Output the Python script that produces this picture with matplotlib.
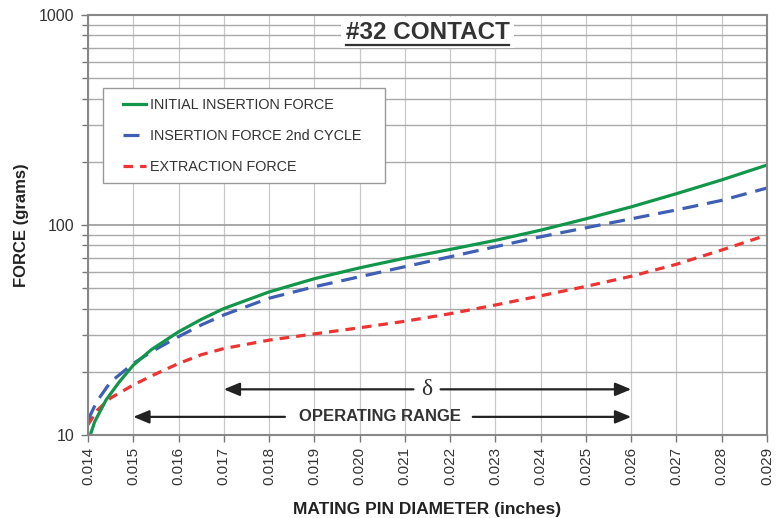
import numpy as np
import matplotlib
matplotlib.use("Agg")
import matplotlib.pyplot as plt
from matplotlib.lines import Line2D
from matplotlib.patches import Rectangle
from matplotlib.ticker import FixedLocator, NullFormatter

plt.rcParams['font.family'] = ['Liberation Sans', 'DejaVu Sans']

# values (pin diameter in inches, force in grams)
x_initial = [0.01405, 0.01415, 0.0144, 0.0147, 0.015, 0.0154, 0.016, 0.0165, 0.017,
             0.018, 0.019, 0.020, 0.021, 0.022, 0.023, 0.024, 0.025, 0.026,
             0.027, 0.028, 0.029]
initial = [10.0, 11.6, 14.7, 18.0, 21.5, 25.5, 31.0, 35.5, 40.0,
           48.0, 55.5, 62.5, 69.5, 76.5, 84.5, 94.5, 107, 122,
           141, 164, 193]

x_second = [0.014, 0.0142, 0.0145, 0.015, 0.0154, 0.016, 0.0165, 0.017,
            0.018, 0.019, 0.020, 0.021, 0.022, 0.023, 0.024, 0.025, 0.026,
            0.027, 0.028, 0.029]
second = [11.8, 14.5, 17.9, 21.9, 24.9, 29.4, 33.4, 37.3,
          44.8, 50.8, 56.7, 63.3, 70.6, 78.8, 87.9, 97.0, 107,
          118, 131, 150]

x_extract = [0.014, 0.0142, 0.0145, 0.015, 0.0154, 0.016, 0.0165, 0.017,
             0.018, 0.019, 0.020, 0.021, 0.022, 0.023, 0.024, 0.025, 0.026,
             0.027, 0.028, 0.029]
extract = [11.2, 13.1, 15.0, 17.3, 19.1, 21.9, 24.1, 25.8,
           28.3, 30.3, 32.4, 34.8, 37.8, 41.6, 46.0, 51.0, 57.0,
           65.0, 76.0, 89.6]

x_ticks = [0.014, 0.015, 0.016, 0.017, 0.018, 0.019, 0.020, 0.021,
           0.022, 0.023, 0.024, 0.025, 0.026, 0.027, 0.028, 0.029]

# arrow spans
delta_span = (0.017, 0.026)
operating_span = (0.015, 0.026)

GREEN = '#12964a'
BLUE = '#3f5fb5'
RED = '#ee3333'
BLUE_LS = (0, (5, 2.8))
RED_LS = (0, (3, 2.2))

fig = plt.figure(figsize=(7.83, 5.18), dpi=100)
ax = fig.add_axes([88 / 783, 1 - 435 / 518, 679 / 783, 420 / 518])

ax.set_yscale('log')
ax.set_xlim(0.014, 0.029)
ax.set_ylim(10, 1000)

# grid
minor_y = [v * d for d in (10, 100) for v in range(2, 10)]
ax.yaxis.set_minor_locator(FixedLocator(minor_y))
ax.yaxis.set_minor_formatter(NullFormatter())
ax.set_yticks([10, 100, 1000])
ax.set_yticklabels(['10', '100', '1000'], fontsize=11.5)
ax.set_xticks(x_ticks)
ax.set_xticklabels(['%.3f' % v for v in x_ticks], rotation=90, fontsize=11)
ax.grid(True, which='major', axis='y', color='#9a9a9a', lw=1.2)
ax.grid(True, which='minor', axis='y', color='#aaaaaa', lw=1.0)
ax.grid(True, which='major', axis='x', color='#c8c8c8', lw=0.9)
ax.tick_params(axis='both', which='both', length=5, color='#777777', width=1)
ax.tick_params(axis='y', which='minor', length=4)
ax.tick_params(axis='both', labelcolor='#333333')
ax.tick_params(axis='y', pad=5)
for s in ax.spines.values():
    s.set_color('#888888')
    s.set_linewidth(1.5)
ax.set_axisbelow(True)

ax.plot(x_extract, extract, color=RED, lw=2.3, ls=RED_LS)
ax.plot(x_second, second, color=BLUE, lw=2.3, ls=BLUE_LS)
ax.plot(x_initial, initial, color=GREEN, lw=2.3)

# legend: entries without frame, frame drawn as its own box
ax.add_patch(Rectangle((0.0221, 0.6), 0.4153, 0.226, transform=ax.transAxes,
                       facecolor='white', edgecolor='#999999', lw=1.0, zorder=4))
handles = [Line2D([], [], color=GREEN, lw=2.3),
           Line2D([], [], color=BLUE, lw=2.3, ls=BLUE_LS),
           Line2D([], [], color=RED, lw=2.3, ls=RED_LS)]
labels = ['INITIAL INSERTION FORCE', 'INSERTION FORCE 2nd CYCLE', 'EXTRACTION FORCE']
leg = ax.legend(handles, labels, loc='upper left', bbox_to_anchor=(0.0515, 0.803),
                fontsize=10.4, handlelength=1.6, handletextpad=0.3, labelspacing=1.18,
                borderpad=0, borderaxespad=0, frameon=False, labelcolor='#333333')
leg.set_zorder(5)

# title inside the plot, underlined
title = ax.text(0.5, 0.958, '#32 CONTACT', transform=ax.transAxes, ha='center', va='center',
                fontsize=17.5, fontweight='bold', color='#333333', zorder=6,
                bbox=dict(facecolor='white', edgecolor='none', pad=3))
fig.canvas.draw()
bb = title.get_window_extent(renderer=fig.canvas.get_renderer())
inv = fig.transFigure.inverted()
(x0, y0), (x1, y1) = inv.transform([(bb.x0, bb.y0 - 1.0), (bb.x1, bb.y0 - 1.0)])
fig.add_artist(Line2D([x0, x1], [y0, y1], color='#333333', lw=1.6, zorder=7))

# range arrows
arrow = dict(arrowstyle='-|>,head_length=0.6,head_width=0.25', color='#222222', lw=1.6,
             mutation_scale=16, shrinkA=0, shrinkB=0)
y_delta = 16.5
y_oper = 12.2
mid_d = 0.02149
ax.annotate('', xy=(delta_span[0], y_delta), xytext=(mid_d - 0.0003, y_delta), arrowprops=arrow)
ax.annotate('', xy=(delta_span[1], y_delta), xytext=(mid_d + 0.0003, y_delta), arrowprops=arrow)
ax.text(mid_d, y_delta, '\u03b4', ha='center', va='center', fontsize=17, color='#333333',
        family=['Liberation Serif', 'DejaVu Serif'])
mid_o = 0.02045
ax.annotate('', xy=(operating_span[0], y_oper), xytext=(0.01835, y_oper), arrowprops=arrow)
ax.annotate('', xy=(operating_span[1], y_oper), xytext=(0.0225, y_oper), arrowprops=arrow)
ax.text(mid_o, y_oper, 'OPERATING RANGE', ha='center', va='center', fontsize=12,
        fontweight='bold', color='#333333')

ax.set_xlabel('MATING PIN DIAMETER (inches)', fontsize=12.5, fontweight='bold',
              color='#222222', labelpad=12)
ax.set_ylabel('FORCE (grams)', fontsize=12, fontweight='bold', color='#222222',
              labelpad=7)

fig.savefig('out.png', dpi=100)
